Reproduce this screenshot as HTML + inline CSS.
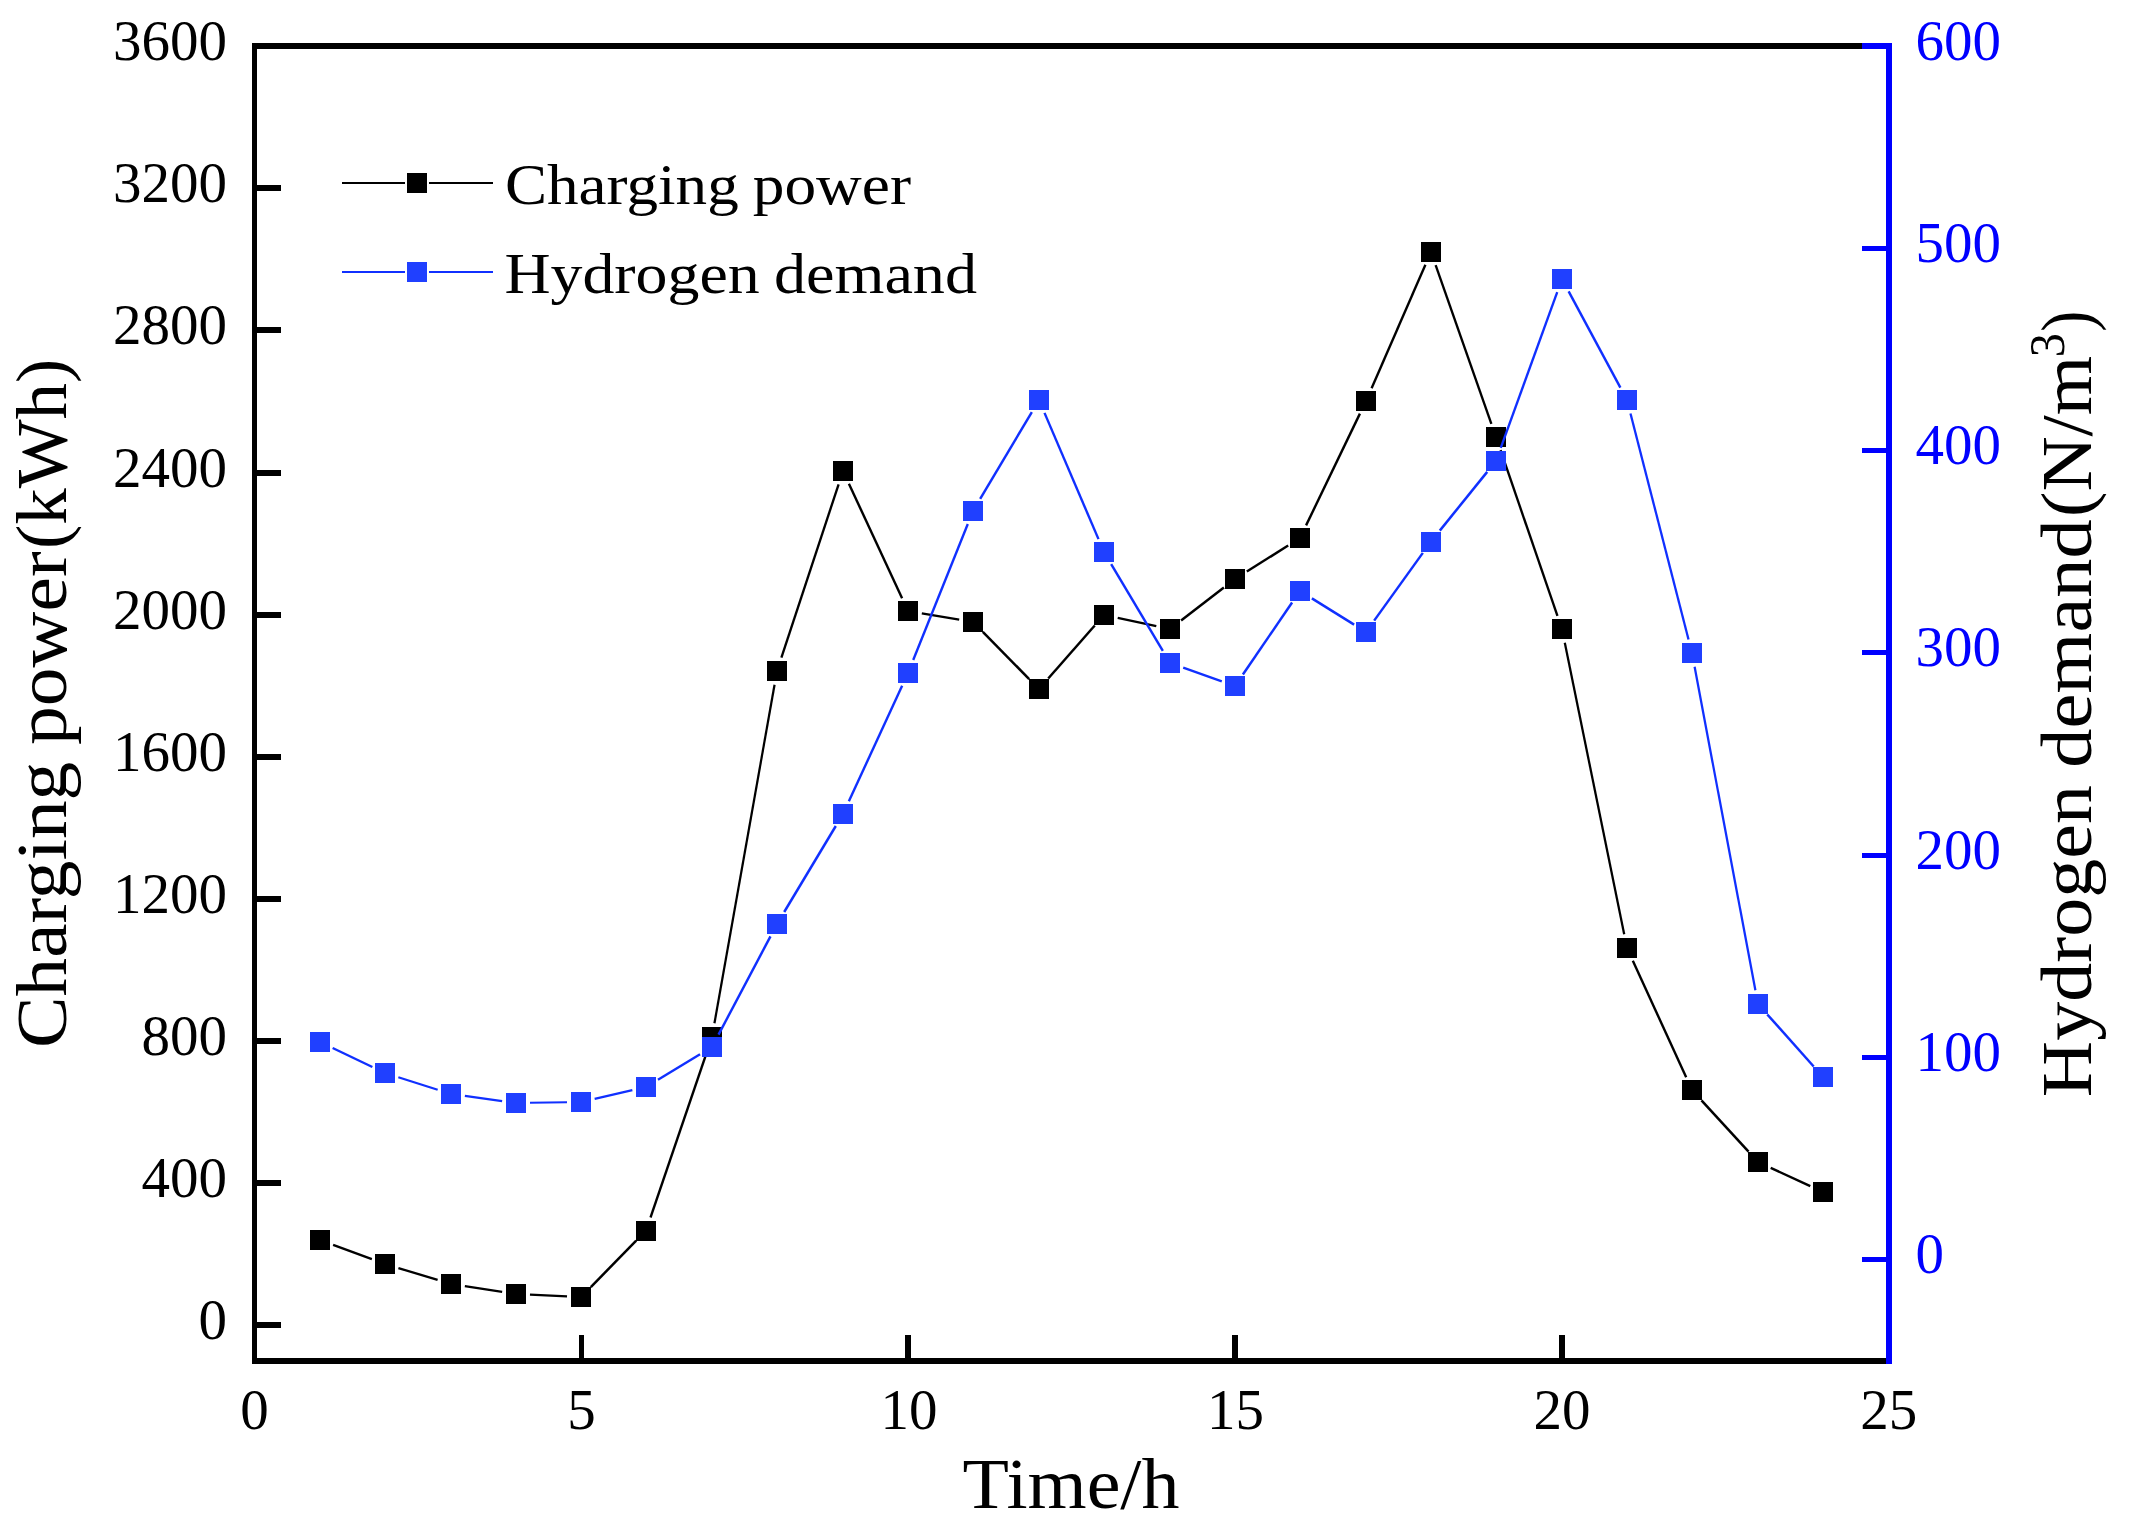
<!DOCTYPE html>
<html lang="en"><head><meta charset="utf-8"><title>Charging power and hydrogen demand</title>
<style>html,body{margin:0;padding:0;background:#fff;}svg{display:block;}text{font-family:"Liberation Serif",serif;}</style></head><body>
<svg width="2136" height="1528" viewBox="0 0 2136 1528">
<rect width="2136" height="1528" fill="#fff"/>
<g stroke="#000" fill="none" stroke-linecap="butt"><path d="M333.13 1244.85L371.87 1259.15" stroke-width="2.36"/><path d="M398.40 1268.06L437.60 1279.94" stroke-width="2.32"/><path d="M464.84 1286.13L502.16 1291.87" stroke-width="2.22"/><path d="M529.99 1294.65L567.01 1296.35" stroke-width="2.14"/><path d="M590.80 1287.01L636.20 1240.74" stroke-width="2.50"/><path d="M650.51 1217.50L707.49 1050.25" stroke-width="2.34"/><path d="M714.45 1023.22L774.55 684.78" stroke-width="2.24"/><path d="M781.39 657.71L838.61 484.29" stroke-width="2.34"/><path d="M848.90 483.70L902.10 598.30" stroke-width="2.41"/><path d="M921.80 613.34L959.20 619.66" stroke-width="2.23"/><path d="M982.82 631.97L1029.18 679.03" stroke-width="2.50"/><path d="M1048.24 678.48L1094.76 625.52" stroke-width="2.50"/><path d="M1117.70 617.91L1156.30 626.09" stroke-width="2.26"/><path d="M1181.10 620.46L1223.90 587.54" stroke-width="2.49"/><path d="M1246.84 571.53L1288.16 545.47" stroke-width="2.46"/><path d="M1306.08 525.39L1359.92 413.61" stroke-width="2.41"/><path d="M1371.60 388.17L1425.40 264.83" stroke-width="2.39"/><path d="M1435.64 265.21L1491.36 423.79" stroke-width="2.35"/><path d="M1500.55 450.24L1557.45 615.76" stroke-width="2.35"/><path d="M1564.80 642.72L1624.20 934.28" stroke-width="2.26"/><path d="M1632.83 960.73L1686.17 1077.27" stroke-width="2.40"/><path d="M1701.46 1100.32L1748.54 1151.68" stroke-width="2.50"/><path d="M1770.71 1167.87L1810.29 1186.13" stroke-width="2.40"/></g>
<g fill="#000" shape-rendering="crispEdges"><rect x="310" y="1230" width="20" height="20"/><rect x="375" y="1254" width="20" height="20"/><rect x="441" y="1274" width="20" height="20"/><rect x="506" y="1284" width="20" height="20"/><rect x="571" y="1287" width="20" height="20"/><rect x="636" y="1221" width="20" height="20"/><rect x="702" y="1027" width="20" height="20"/><rect x="767" y="661" width="20" height="20"/><rect x="833" y="461" width="20" height="20"/><rect x="898" y="601" width="20" height="20"/><rect x="963" y="612" width="20" height="20"/><rect x="1029" y="679" width="20" height="20"/><rect x="1094" y="605" width="20" height="20"/><rect x="1160" y="619" width="20" height="20"/><rect x="1225" y="569" width="20" height="20"/><rect x="1290" y="528" width="20" height="20"/><rect x="1356" y="391" width="20" height="20"/><rect x="1421" y="242" width="20" height="20"/><rect x="1486" y="427" width="20" height="20"/><rect x="1552" y="619" width="20" height="20"/><rect x="1617" y="938" width="20" height="20"/><rect x="1682" y="1080" width="20" height="20"/><rect x="1748" y="1152" width="20" height="20"/><rect x="1813" y="1182" width="20" height="20"/></g>
<g stroke="#1030ff" fill="none" stroke-linecap="butt"><path d="M332.64 1048.03L372.36 1066.97" stroke-width="2.41"/><path d="M398.34 1077.24L437.66 1089.76" stroke-width="2.33"/><path d="M464.87 1095.92L502.13 1101.08" stroke-width="2.21"/><path d="M530.00 1102.78L567.00 1102.22" stroke-width="2.11"/><path d="M594.64 1098.85L632.36 1090.15" stroke-width="2.28"/><path d="M657.97 1079.74L700.03 1054.26" stroke-width="2.45"/><path d="M718.54 1034.62L770.46 936.38" stroke-width="2.43"/><path d="M784.20 912.00L835.80 826.00" stroke-width="2.45"/><path d="M848.86 801.29L902.14 685.71" stroke-width="2.40"/><path d="M913.21 660.01L967.79 523.99" stroke-width="2.38"/><path d="M980.16 498.97L1031.84 412.03" stroke-width="2.45"/><path d="M1044.50 412.87L1098.50 539.13" stroke-width="2.39"/><path d="M1111.16 564.03L1162.84 650.97" stroke-width="2.45"/><path d="M1183.20 667.67L1221.80 681.33" stroke-width="2.35"/><path d="M1242.91 674.45L1292.09 602.55" stroke-width="2.47"/><path d="M1311.89 598.39L1354.11 624.61" stroke-width="2.46"/><path d="M1374.17 620.63L1422.83 552.87" stroke-width="2.48"/><path d="M1439.80 530.61L1487.20 471.89" stroke-width="2.49"/><path d="M1500.77 447.84L1557.23 292.16" stroke-width="2.36"/><path d="M1568.63 291.33L1620.37 387.67" stroke-width="2.43"/><path d="M1630.48 413.56L1688.52 639.44" stroke-width="2.29"/><path d="M1694.59 666.76L1755.41 990.24" stroke-width="2.25"/><path d="M1767.31 1014.46L1813.69 1066.54" stroke-width="2.50"/></g>
<g fill="#2040ff" shape-rendering="crispEdges"><rect x="310" y="1032" width="20" height="20"/><rect x="375" y="1063" width="20" height="20"/><rect x="441" y="1084" width="20" height="20"/><rect x="506" y="1093" width="20" height="20"/><rect x="571" y="1092" width="20" height="20"/><rect x="636" y="1077" width="20" height="20"/><rect x="702" y="1037" width="20" height="20"/><rect x="767" y="914" width="20" height="20"/><rect x="833" y="804" width="20" height="20"/><rect x="898" y="663" width="20" height="20"/><rect x="963" y="501" width="20" height="20"/><rect x="1029" y="390" width="20" height="20"/><rect x="1094" y="542" width="20" height="20"/><rect x="1160" y="653" width="20" height="20"/><rect x="1225" y="676" width="20" height="20"/><rect x="1290" y="581" width="20" height="20"/><rect x="1356" y="622" width="20" height="20"/><rect x="1421" y="532" width="20" height="20"/><rect x="1486" y="451" width="20" height="20"/><rect x="1552" y="269" width="20" height="20"/><rect x="1617" y="390" width="20" height="20"/><rect x="1682" y="643" width="20" height="20"/><rect x="1748" y="994" width="20" height="20"/><rect x="1813" y="1067" width="20" height="20"/></g>
<g shape-rendering="crispEdges"><g fill="#000"><rect x="252" y="43" width="5" height="1321"/><rect x="252" y="43" width="1634" height="6"/><rect x="252" y="1358" width="1634" height="6"/><rect x="257" y="1322" width="24" height="6"/><rect x="257" y="1180" width="24" height="6"/><rect x="257" y="1038" width="24" height="6"/><rect x="257" y="896" width="24" height="6"/><rect x="257" y="754" width="24" height="6"/><rect x="257" y="612" width="24" height="6"/><rect x="257" y="470" width="24" height="6"/><rect x="257" y="327" width="24" height="6"/><rect x="257" y="185" width="24" height="6"/><rect x="579" y="1335" width="5" height="23"/><rect x="905" y="1335" width="6" height="23"/><rect x="1232" y="1335" width="6" height="23"/><rect x="1559" y="1335" width="6" height="23"/></g><g fill="#0000ff"><rect x="1886" y="43" width="6" height="1321"/><rect x="1862" y="43" width="30" height="6"/><rect x="1862" y="1257" width="24" height="5"/><rect x="1862" y="1055" width="24" height="5"/><rect x="1862" y="853" width="24" height="5"/><rect x="1862" y="650" width="24" height="5"/><rect x="1862" y="448" width="24" height="5"/><rect x="1862" y="246" width="24" height="5"/></g></g>
<g font-size="58" fill="#000" text-anchor="end"><text x="227" y="1339.0" textLength="28.5" lengthAdjust="spacingAndGlyphs">0</text><text x="227" y="1196.9" textLength="85.5" lengthAdjust="spacingAndGlyphs">400</text><text x="227" y="1054.8" textLength="85.5" lengthAdjust="spacingAndGlyphs">800</text><text x="227" y="912.8" textLength="114.0" lengthAdjust="spacingAndGlyphs">1200</text><text x="227" y="770.7" textLength="114.0" lengthAdjust="spacingAndGlyphs">1600</text><text x="227" y="628.6" textLength="114.0" lengthAdjust="spacingAndGlyphs">2000</text><text x="227" y="486.5" textLength="114.0" lengthAdjust="spacingAndGlyphs">2400</text><text x="227" y="344.4" textLength="114.0" lengthAdjust="spacingAndGlyphs">2800</text><text x="227" y="202.4" textLength="114.0" lengthAdjust="spacingAndGlyphs">3200</text><text x="227" y="60.3" textLength="114.0" lengthAdjust="spacingAndGlyphs">3600</text></g><g font-size="58" fill="#0000ff" text-anchor="start"><text x="1915.5" y="1273.3" textLength="28.5" lengthAdjust="spacingAndGlyphs">0</text><text x="1915.5" y="1071.0" textLength="85.5" lengthAdjust="spacingAndGlyphs">100</text><text x="1915.5" y="868.7" textLength="85.5" lengthAdjust="spacingAndGlyphs">200</text><text x="1915.5" y="666.4" textLength="85.5" lengthAdjust="spacingAndGlyphs">300</text><text x="1915.5" y="464.1" textLength="85.5" lengthAdjust="spacingAndGlyphs">400</text><text x="1915.5" y="261.8" textLength="85.5" lengthAdjust="spacingAndGlyphs">500</text><text x="1915.5" y="59.5" textLength="85.5" lengthAdjust="spacingAndGlyphs">600</text></g><g font-size="58" fill="#000" text-anchor="middle"><text x="254.5" y="1428.5" textLength="28.5" lengthAdjust="spacingAndGlyphs">0</text><text x="581.5" y="1428.5" textLength="28.5" lengthAdjust="spacingAndGlyphs">5</text><text x="909" y="1428.5" textLength="57.0" lengthAdjust="spacingAndGlyphs">10</text><text x="1235.5" y="1428.5" textLength="57.0" lengthAdjust="spacingAndGlyphs">15</text><text x="1562" y="1428.5" textLength="57.0" lengthAdjust="spacingAndGlyphs">20</text><text x="1888.7" y="1428.5" textLength="57.0" lengthAdjust="spacingAndGlyphs">25</text></g>
<text x="962.63" y="1508" font-size="72" fill="#000" textLength="216.88" lengthAdjust="spacingAndGlyphs">Time/h</text>
<text transform="translate(66,0) rotate(-90)" x="-1047.97" y="0" font-size="72" fill="#000" textLength="286.14" lengthAdjust="spacingAndGlyphs">Charging</text>
<text transform="translate(66,0) rotate(-90)" x="-744.95" y="0" font-size="72" fill="#000" textLength="193.63" lengthAdjust="spacingAndGlyphs">power</text>
<text transform="translate(66,0) rotate(-90)" x="-549.10" y="0" font-size="72" fill="#000" textLength="190.31" lengthAdjust="spacingAndGlyphs">(kWh)</text>
<text transform="translate(2091,0) rotate(-90)" x="-1097.25" y="0" font-size="72" fill="#000" textLength="312.23" lengthAdjust="spacingAndGlyphs">Hydrogen</text>
<text transform="translate(2091,0) rotate(-90)" x="-767.84" y="0" font-size="72" fill="#000" textLength="248.70" lengthAdjust="spacingAndGlyphs">demand</text>
<text transform="translate(2091,0) rotate(-90)" x="-517.06" y="0" font-size="72" fill="#000" textLength="161.25" lengthAdjust="spacingAndGlyphs">(N/m</text>
<text transform="translate(2064,0) rotate(-90)" x="-357.32" y="0" font-size="51" fill="#000" textLength="24.21" lengthAdjust="spacingAndGlyphs">3</text>
<text transform="translate(2091,0) rotate(-90)" x="-331.83" y="0" font-size="72" fill="#000" textLength="21.00" lengthAdjust="spacingAndGlyphs">)</text>
<g shape-rendering="crispEdges"><path d="M342 183H405M429 183H493" stroke="#000" stroke-width="2"/><rect x="407" y="173" width="20" height="20" fill="#000"/><path d="M342 272H405M429 272H493" stroke="#1030ff" stroke-width="2"/><rect x="407" y="262" width="20" height="20" fill="#2040ff"/></g><text x="504.91" y="204.3" font-size="58" fill="#000" textLength="233.79" lengthAdjust="spacingAndGlyphs">Charging</text><text x="752.73" y="204.3" font-size="58" fill="#000" textLength="158.33" lengthAdjust="spacingAndGlyphs">power</text><text x="504.41" y="293" font-size="58" fill="#000" textLength="255.31" lengthAdjust="spacingAndGlyphs">Hydrogen</text><text x="773.93" y="293" font-size="58" fill="#000" textLength="203.10" lengthAdjust="spacingAndGlyphs">demand</text>
</svg></body></html>
